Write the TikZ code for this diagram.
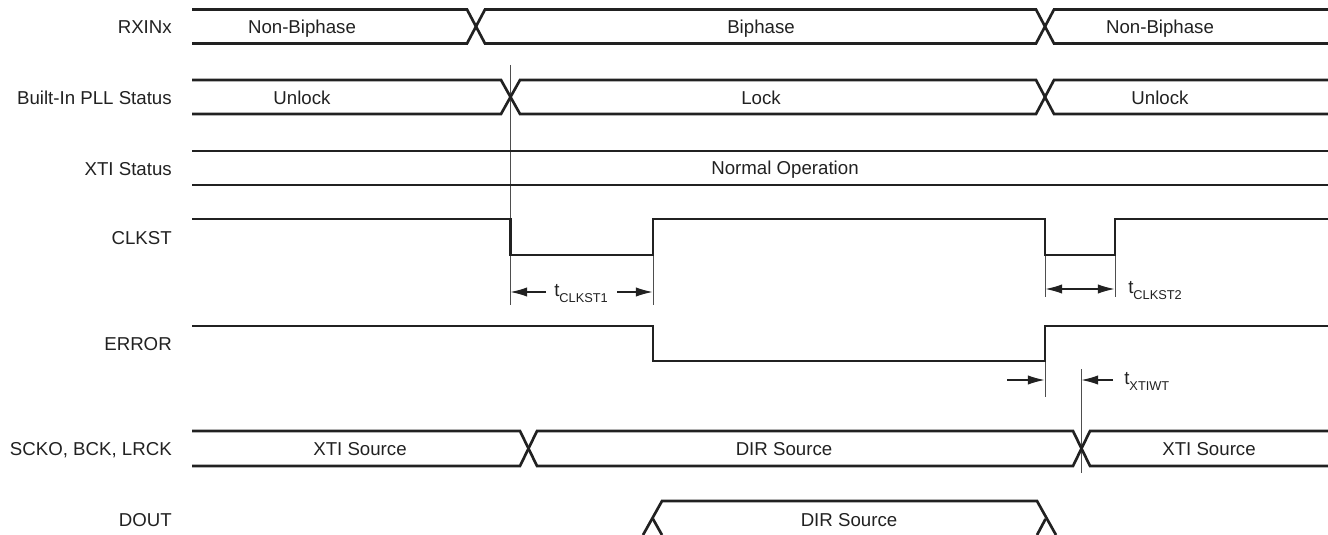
\documentclass[tikz,border=0pt]{standalone}
\usepackage{fontspec}
\setmainfont{Liberation Sans}
\usetikzlibrary{arrows.meta}
\definecolor{ink}{gray}{0.13}
\tikzset{
  x=0.75pt,y=-0.75pt,
  wave/.style={draw=ink,line width=2pt,line join=miter},
  guide/.style={draw=ink!80,line width=0.7pt},
  dimboth/.style={draw=ink,line width=0.8pt,{Latex[length=12.5pt,width=7pt]}-{Latex[length=12.5pt,width=7pt]}},
  tipend/.style={draw=ink,line width=0.8pt,-{Latex[length=12.5pt,width=7pt]}},
  lbl/.style={font=\fontsize{14pt}{16pt}\selectfont,text=ink,inner sep=0pt},
  siglbl/.style={lbl,anchor=base east},
  tlbl/.style={lbl,anchor=base west},
  txtc/.style={lbl,anchor=base},
}
\newcommand{\subt}[1]{t\raisebox{-4.5pt}{\fontsize{9.6pt}{11pt}\selectfont #1}}
\begin{document}
\begin{tikzpicture}
\useasboundingbox (0,0) rectangle (1328,535);
% signal names
\node[siglbl] (n1) at (172,34) {RXINx};
\node[siglbl] (n2) at (172,104) {Built-In PLL Status};
\node[siglbl] (n3) at (172,175) {XTI Status};
\node[siglbl] (n4) at (172,244) {CLKST};
\node[siglbl] (n5) at (172,350) {ERROR};
\node[siglbl] (n6) at (172,455.5) {SCKO, BCK, LRCK};
\node[siglbl] (n7) at (172,526) {DOUT};
% guides (under the waves)
\coordinate (g1a) at (510,65);   \coordinate (g1b) at (510,305);
\coordinate (g2a) at (653,255);  \coordinate (g2b) at (653,305);
\coordinate (g3a) at (1045,255); \coordinate (g3b) at (1045,297);
\coordinate (g4a) at (1115,255); \coordinate (g4b) at (1115,297);
\coordinate (g5a) at (1045,361); \coordinate (g5b) at (1045,397);
\coordinate (g6a) at (1081,369); \coordinate (g6b) at (1081,473);
\foreach \p in {1,...,6} {\draw[guide] (g\p a) -- (g\p b);}
% RXINx
\draw[wave] (192,9.5) -- (467,9.5) -- (485,43.5) -- (1036,43.5) -- (1054,9.5) -- (1328,9.5);
\draw[wave] (192,43.5) -- (467,43.5) -- (485,9.5) -- (1036,9.5) -- (1054,43.5) -- (1328,43.5);
\node[txtc] (a1) at (302,34) {Non-Biphase};
\node[txtc] (a2) at (761,34) {Biphase};
\node[txtc] (a3) at (1160,34) {Non-Biphase};
% PLL
\draw[wave] (192,80) -- (501,80) -- (520,114) -- (1036,114) -- (1054,80) -- (1328,80);
\draw[wave] (192,114) -- (501,114) -- (520,80) -- (1036,80) -- (1054,114) -- (1328,114);
\node[txtc] (b1) at (302,104) {Unlock};
\node[txtc] (b2) at (761,104) {Lock};
\node[txtc] (b3) at (1160,104) {Unlock};
% XTI
\draw[wave] (192,151) -- (1328,151);
\draw[wave] (192,185) -- (1328,185);
\node[txtc] (c1) at (785,174) {Normal Operation};
% CLKST
\draw[wave] (192,219) -- (510.5,219) -- (510.5,255) -- (653,255) -- (653,219) -- (1045,219) -- (1045,255) -- (1115,255) -- (1115,219) -- (1328,219);
% ERROR
\draw[wave] (192,326) -- (653,326) -- (653,361) -- (1045,361) -- (1045,326) -- (1328,326);
% SCKO
\draw[wave] (192,431) -- (520,431) -- (537,466) -- (1073,466) -- (1090,431) -- (1328,431);
\draw[wave] (192,466) -- (520,466) -- (537,431) -- (1073,431) -- (1090,466) -- (1328,466);
\node[txtc] (d1) at (360,455) {XTI Source};
\node[txtc] (d2) at (784,455) {DIR Source};
\node[txtc] (d3) at (1209,455) {XTI Source};
% DOUT
\coordinate (xl) at (653,519);
\coordinate (xr) at (1045.5,519);
\draw[wave] (643,535) -- (662,501) -- (1037,501) -- (1056,535);
\draw[wave] (xl) -- (662,535);
\draw[wave] (xr) -- (1037,535);
\node[txtc] (e1) at (849,526) {DIR Source};
% timing dimensions
\node[tlbl] (t1) at (554,296) {\subt{CLKST1}};
\node[tlbl] (t2) at (1128,293) {\subt{CLKST2}};
\node[tlbl] (t3) at (1124,384) {\subt{XTIWT}};
\coordinate (d1a) at (546,292);  \coordinate (d1b) at (510.5,292);
\coordinate (d2a) at (617,292);  \coordinate (d2b) at (652.5,292);
\coordinate (d3a) at (1045.5,289); \coordinate (d3b) at (1114.5,289);
\coordinate (d4a) at (1007,380); \coordinate (d4b) at (1044.5,380);
\coordinate (d5a) at (1113,380); \coordinate (d5b) at (1081.5,380);
\draw[tipend] (d1a) -- (d1b);
\draw[tipend] (d2a) -- (d2b);
\draw[dimboth] (d3a) -- (d3b);
\draw[tipend] (d4a) -- (d4b);
\draw[tipend] (d5a) -- (d5b);
\end{tikzpicture}
\end{document}
